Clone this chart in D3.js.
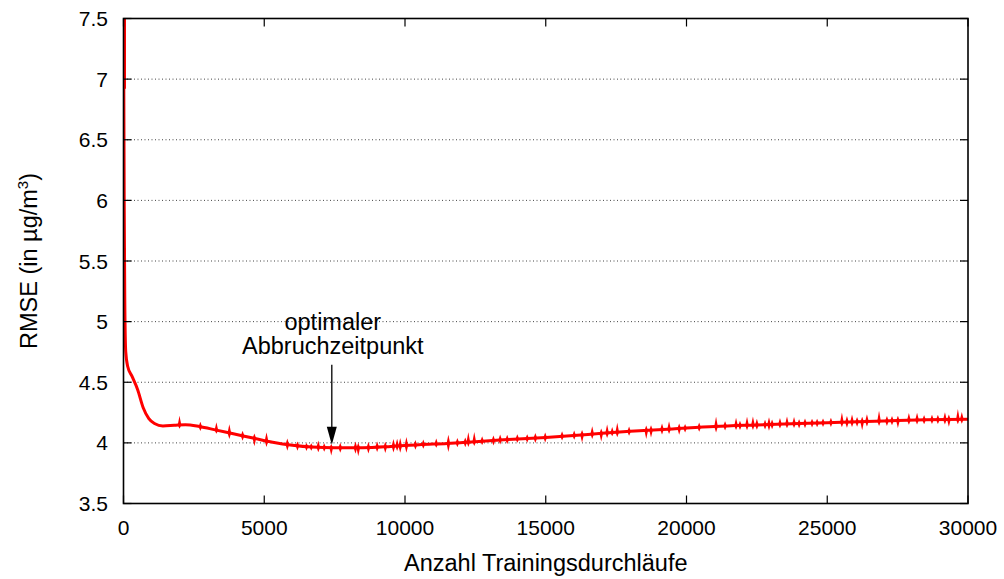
<!DOCTYPE html>
<html>
<head>
<meta charset="utf-8">
<script src="https://cdn.jsdelivr.net/npm/d3@7"></script>
<style>
  html, body { margin: 0; padding: 0; background: #fff; }
  svg { display: block; font-family: "Liberation Sans", Arial, sans-serif; }
</style>
</head>
<body>
<svg id="chart" width="1004" height="579"></svg>
<script>
// ---- data ----
const xTicks = [0, 5000, 10000, 15000, 20000, 25000, 30000];
const yTicks = [3.5, 4, 4.5, 5, 5.5, 6, 6.5, 7, 7.5];
const yTickLabels = ["3.5", "4", "4.5", "5", "5.5", "6", "6.5", "7", "7.5"];

// smoothed RMSE trend (iterations, RMSE)
const iterations = [0, 10, 25, 45, 80, 150, 300, 500, 700, 900, 1100, 1400, 1800, 2200, 2700, 3300, 3900, 4600, 5300, 6000, 6700, 7500, 8500, 9500, 10500, 11500, 12500, 13500, 15000, 16500, 18000, 19500, 21000, 22500, 24000, 25500, 27000, 28500, 30000];
const rmse = [7.9, 7.0, 6.0, 5.2, 4.75, 4.63, 4.55, 4.44, 4.29, 4.2, 4.16, 4.14, 4.145, 4.15, 4.135, 4.105, 4.075, 4.04, 4.005, 3.98, 3.965, 3.96, 3.96, 3.97, 3.985, 3.995, 4.01, 4.025, 4.045, 4.07, 4.095, 4.115, 4.135, 4.148, 4.16, 4.17, 4.18, 4.19, 4.195];

// short spikes on the curve: iteration, excursion up, excursion down (RMSE units)
const spikeIter = [1990, 2730, 3300, 3760, 4230, 4650, 5080, 5820, 6180, 6500, 6670, 6920, 7130, 7380,
  7700, 8240, 8340, 8700, 9010, 9300, 9590, 9720, 9830, 10050, 10370, 10650, 11110, 11540, 11860, 12140, 12250, 12460, 12740, 13140, 13380, 13630, 13990, 14340, 14630,
  14980, 15580, 16010, 16290, 16650, 16970, 17180, 17360, 17540, 17960, 18570, 18740, 19130, 19380, 19740, 19950, 20450, 21050, 21370, 21760, 21900, 22150, 22360,
  22500, 22790, 22930, 23040, 23320, 23570, 23820, 24000, 24210, 24460, 24640, 24850, 25130, 25520, 25700, 25880, 26060, 26240, 26410, 26840, 27120, 27300, 27510, 27900, 28190, 28440, 28720, 28930, 29180, 29320, 29640, 29780];
const spikeUp = [0.055, 0.02, 0.045, 0.05, 0.02, 0.02, 0.05, 0.03, 0.015, 0.01, 0.01, 0.035, 0.015, 0.01,
  0.02, 0.03, 0.02, 0.025, 0.025, 0.02, 0.04, 0.04, 0.045, 0.05, 0.02, 0.02, 0.025, 0.05, 0.02, 0.02, 0.06, 0.06, 0.02, 0.02, 0.025, 0.02, 0.02, 0.015, 0.02,
  0.02, 0.02, 0.02, 0.02, 0.045, 0.02, 0.05, 0.025, 0.06, 0.02, 0.02, 0.02, 0.03, 0.045, 0.02, 0.015, 0.02, 0.06, 0.02, 0.045, 0.02, 0.05, 0.05,
  0.03, 0.02, 0.04, 0.02, 0.03, 0.04, 0.035, 0.015, 0.02, 0.015, 0.015, 0.015, 0.02, 0.06, 0.03, 0.04, 0.02, 0.02, 0.04, 0.065, 0.02, 0.02, 0.02, 0.04, 0.04, 0.02, 0.02, 0.02, 0.04, 0.02, 0.065, 0.04];
const spikeDown = [0.01, 0.015, 0.01, 0.03, 0.02, 0.045, 0.03, 0.03, 0.02, 0.015, 0.01, 0.02, 0.015, 0.045,
  0.02, 0.03, 0.05, 0.03, 0.02, 0.03, 0.03, 0.02, 0.035, 0.04, 0.02, 0.015, 0.01, 0.05, 0.015, 0.02, 0.02, 0.015, 0.01, 0.02, 0.015, 0.015, 0.01, 0.015, 0.02,
  0.02, 0.015, 0.015, 0.045, 0.02, 0.045, 0.02, 0.01, 0.02, 0.015, 0.05, 0.04, 0.02, 0.02, 0.03, 0.015, 0.015, 0.03, 0.015, 0.015, 0.015, 0.02, 0.02,
  0.02, 0.02, 0.03, 0.02, 0.015, 0.015, 0.015, 0.02, 0.02, 0.015, 0.015, 0.015, 0.015, 0.02, 0.025, 0.02, 0.02, 0.05, 0.02, 0.02, 0.02, 0.015, 0.04, 0.015, 0.015, 0.015, 0.015, 0.015, 0.02, 0.04, 0.02, 0.015];

// annotation
const annotIter = 7400;
const annotTail = 4.645;
const annotTip = 3.985;
const annotLines = ["optimaler", "Abbruchzeitpunkt"];

const xTitle = "Anzahl Trainingsdurchläufe";

// ---- layout ----
const L = 123.5, R = 968, T = 18.5, B = 503.5;
const svg = d3.select("#chart");
const x = d3.scaleLinear().domain([0, 30000]).range([L, R]);
const y = d3.scaleLinear().domain([3.5, 7.5]).range([B, T]);

// grid
svg.append("g").selectAll("line")
  .data(yTicks.filter(v => v > 3.5 && v < 7.5))
  .join("line")
  .attr("x1", L).attr("x2", R)
  .attr("y1", d => y(d)).attr("y2", d => y(d))
  .attr("stroke", "#444").attr("stroke-width", 1)
  .attr("stroke-dasharray", "1,2.5");

// clip
svg.append("clipPath").attr("id", "clip")
  .append("rect").attr("x", L).attr("y", T).attr("width", R - L).attr("height", B - T);

const plot = svg.append("g").attr("clip-path", "url(#clip)");

const pts = iterations.map((it, i) => [it, rmse[i]]);
const line = d3.line().x(d => x(d[0])).y(d => y(d[1])).curve(d3.curveMonotoneX);

// baseline interp for spikes
const interp = it => {
  const i = d3.bisector(d => d[0]).right(pts, it);
  const a = pts[Math.max(0, i - 1)], b = pts[Math.min(pts.length - 1, i)];
  if (a[0] === b[0]) return a[1];
  return a[1] + (b[1] - a[1]) * (it - a[0]) / (b[0] - a[0]);
};

const spikes = spikeIter.map((it, i) => ({ it, up: spikeUp[i], down: spikeDown[i], base: interp(it) }));
const sw = 1.8, lw = 2.5;
plot.append("g").selectAll("path")
  .data(spikes)
  .join("path")
  .attr("d", d => {
    const cx = x(d.it), cy = y(d.base);
    return `M${cx - sw},${cy}L${cx},${y(d.base + d.up) - lw}L${cx + sw},${cy}L${cx},${y(d.base - d.down) + lw}Z`;
  })
  .attr("fill", "#ff0000");

plot.append("path")
  .datum(pts)
  .attr("d", line)
  .attr("fill", "none")
  .attr("stroke", "#ff0000")
  .attr("stroke-width", 3)
  .attr("stroke-linejoin", "round");

// start oscillation near top
plot.append("line")
  .attr("x1", x(0) + 0.5).attr("x2", x(0) + 0.5)
  .attr("y1", y(7.5)).attr("y2", y(6.92))
  .attr("stroke", "#ff0000").attr("stroke-width", 4);

// border
svg.append("rect").attr("x", L).attr("y", T).attr("width", R - L).attr("height", B - T)
  .attr("fill", "none").attr("stroke", "#000").attr("stroke-width", 1.6);

// ticks
const tk = 8;
const tg = svg.append("g").attr("stroke", "#000").attr("stroke-width", 1.2);
yTicks.forEach(v => {
  tg.append("line").attr("x1", L).attr("x2", L + tk).attr("y1", y(v)).attr("y2", y(v));
  tg.append("line").attr("x1", R).attr("x2", R - tk).attr("y1", y(v)).attr("y2", y(v));
});
xTicks.forEach(v => {
  tg.append("line").attr("x1", x(v)).attr("x2", x(v)).attr("y1", B).attr("y2", B - tk);
  tg.append("line").attr("x1", x(v)).attr("x2", x(v)).attr("y1", T).attr("y2", T + tk);
});

// tick labels
svg.append("g").selectAll("text")
  .data(yTicks)
  .join("text")
  .attr("x", 108).attr("y", d => y(d))
  .attr("dy", "0.36em")
  .attr("text-anchor", "end")
  .attr("font-size", 21)
  .text((d, i) => yTickLabels[i]);

svg.append("g").selectAll("text")
  .data(xTicks)
  .join("text")
  .attr("x", d => x(d)).attr("y", 535)
  .attr("text-anchor", "middle")
  .attr("font-size", 21)
  .text(d => String(d));

// axis titles
svg.append("text")
  .attr("x", (L + R) / 2).attr("y", 571)
  .attr("text-anchor", "middle")
  .attr("font-size", 23.5)
  .text(xTitle);

const yl = svg.append("text")
  .attr("transform", `translate(37,${(T + B) / 2}) rotate(-90)`)
  .attr("text-anchor", "middle")
  .attr("font-size", 23.5);
yl.append("tspan").text("RMSE (in µg/m");
yl.append("tspan").attr("font-size", 15).attr("dy", -9).text("3");
yl.append("tspan").attr("dy", 9).text(")");

// annotation
const ax = x(annotIter);
svg.append("line")
  .attr("x1", ax).attr("x2", ax)
  .attr("y1", y(annotTail)).attr("y2", y(annotTip) - 16)
  .attr("stroke", "#000").attr("stroke-width", 1.3);
svg.append("path")
  .attr("d", `M${ax - 5},${y(annotTip) - 18}L${ax + 5},${y(annotTip) - 18}L${ax},${y(annotTip)}Z`)
  .attr("fill", "#000");
svg.append("g").selectAll("text")
  .data(annotLines)
  .join("text")
  .attr("x", ax + 1)
  .attr("y", (d, i) => 330 + i * 23.5)
  .attr("text-anchor", "middle")
  .attr("font-size", 23.5)
  .text(d => d);
</script>
</body>
</html>
